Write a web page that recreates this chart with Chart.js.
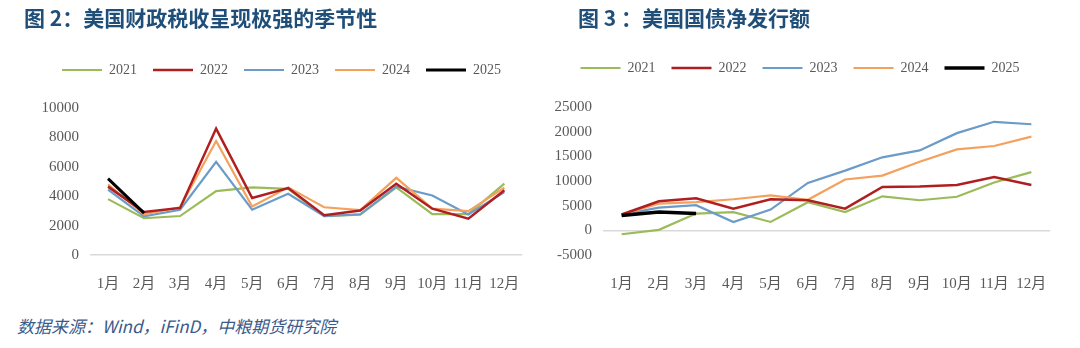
<!DOCTYPE html>
<html>
<head>
<meta charset="utf-8">
<script src="https://cdn.jsdelivr.net/npm/chart.js@4.4.1/dist/chart.umd.min.js"></script>
<style>
  body { margin: 0; width: 1080px; height: 348px; background: #fff; position: relative; overflow: hidden; font-family: 'Noto Sans CJK SC', sans-serif; }
  .title { position: absolute; top: 5px; line-height: 24px; font-weight: bold; font-size: 21px; color: #1f4e79; white-space: nowrap; }
  #t1 { left: 24px; }
  #t2 { left: 578px; }
  .box { position: absolute; top: 0; width: 540px; height: 300px; }
  #src { position: absolute; left: 17px; top: 316px; line-height: 20px; font-size: 17px; font-style: italic; color: #3a5a8c; white-space: nowrap; }
</style>
</head>
<body>
<div class="box" style="left:0"><canvas id="c1"></canvas></div>
<div class="box" style="left:540px"><canvas id="c2"></canvas></div>
<div class="title" id="t1">图 2：美国财政税收呈现极强的季节性</div>
<div class="title" id="t2">图 3 ：美国国债净发行额</div>
<div id="src">数据来源：Wind，iFinD，中粮期货研究院</div>
<script>
const months = ['1月', '2月', '3月', '4月', '5月', '6月', '7月', '8月', '9月', '10月', '11月', '12月']
const years = ['2021', '2022', '2023', '2024', '2025']

// 图2 财政税收
const tax2021 = [3800, 2500, 2650, 4350, 4600, 4500, 2650, 2750, 4600, 2780, 2780, 4850]
const tax2022 = [4650, 2920, 3200, 8600, 3880, 4550, 2700, 3030, 4850, 3150, 2470, 4400]
const tax2023 = [4450, 2630, 3080, 6330, 3080, 4170, 2650, 2770, 4650, 4050, 2760, 4280]
const tax2024 = [4800, 2760, 3250, 7750, 3300, 4600, 3250, 3050, 5250, 3150, 2980, 4580]
const tax2025 = [5200, 2850]

// 图3 国债净发行额
const iss2021 = [-800, 100, 3400, 3700, 1700, 5700, 3700, 6900, 6100, 6800, 9700, 11800]
const iss2022 = [3200, 5900, 6500, 4400, 6300, 6100, 4400, 8800, 8900, 9200, 10800, 9200]
const iss2023 = [3200, 4600, 5100, 1700, 4200, 9600, 12100, 14800, 16200, 19700, 22000, 21500]
const iss2024 = [3200, 5400, 5700, 6300, 7100, 6200, 10300, 11100, 13900, 16400, 17100, 19000]
const iss2025 = [3000, 3700, 3400]

const colors = ['#9bbb59', '#b01f1f', '#6b9bc8', '#f3a15d', '#000000']
const drawOrder = [4, 1, 3, 2, 0]
const serif = "'Liberation Serif', 'Noto Sans CJK SC', serif"

// extra space under the legend
const legendGap = {
  id: 'legendGap',
  afterInit(chart, args, opts) {
    const fit = chart.legend.fit
    chart.legend.fit = function () {
      fit.call(this)
      this.height += opts.size
    }
  }
}

function makeChart(id, series, yMin, yMax, step, pad, gap, widths) {
  return new Chart(document.getElementById(id), {
    type: 'line',
    data: {
      labels: months,
      datasets: series.map((data, i) => ({
        label: years[i],
        data: data,
        borderColor: colors[i],
        backgroundColor: colors[i],
        borderWidth: widths[i],
        pointRadius: 0,
        tension: 0,
        order: drawOrder[i],
      }))
    },
    options: {
      animation: false,
      responsive: true,
      maintainAspectRatio: false,
      layout: { padding: pad },
      plugins: {
        legendGap: { size: gap },
        tooltip: { enabled: false },
        legend: {
          position: 'top',
          labels: {
            usePointStyle: true,
            pointStyle: 'line',
            pointStyleWidth: 40,
            padding: 16,
            color: '#595959',
            font: { family: serif, size: 14 },
            sort: (a, b) => a.datasetIndex - b.datasetIndex,
          }
        }
      },
      scales: {
        x: {
          offset: true,
          grid: { display: false, drawTicks: false },
          border: { display: false },
          ticks: { color: '#595959', font: { family: serif, size: 15 }, padding: 20, maxRotation: 0, autoSkip: false },
          afterFit: s => { s.height = 45 }
        },
        y: {
          min: yMin,
          max: yMax,
          grid: {
            drawTicks: false,
            color: c => c.tick.value === 0 ? '#d9d9d9' : 'rgba(0,0,0,0)',
            lineWidth: 1.5,
          },
          border: { display: false },
          ticks: {
            stepSize: step,
            color: '#595959',
            font: { family: serif, size: 15 },
            padding: 11,
            callback: v => String(v)
          },
          afterFit: s => { s.width = pad.yw }
        }
      }
    },
    plugins: [legendGap]
  })
}

makeChart('c1', [tax2021, tax2022, tax2023, tax2024, tax2025], 0, 10000, 2000,
  { left: 38, right: 15, top: 47, bottom: 0, yw: 52 }, 21, [2.2, 2.5, 2.2, 2.2, 3])
makeChart('c2', [iss2021, iss2022, iss2023, iss2024, iss2025], -5000, 25000, 5000,
  { left: 10, right: 30, top: 45, bottom: 0, yw: 53 }, 22, [2.2, 2.5, 2.2, 2.2, 3.5])
</script>
</body>
</html>
